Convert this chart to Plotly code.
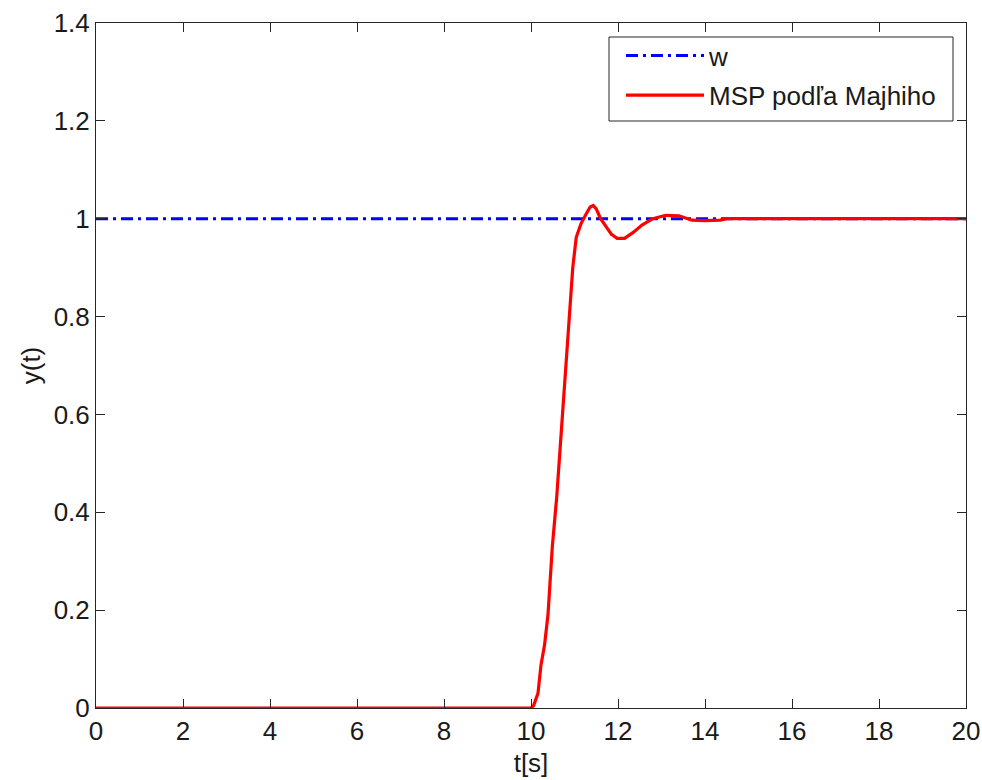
import plotly.graph_objects as go

# Reference signal w
t_w = [0, 20]
w = [1, 1]

# Response "MSP podľa Majhiho"
t_y = [0, 10.0, 10.06, 10.16, 10.23, 10.31, 10.39, 10.49, 10.59, 10.68, 10.77, 10.9,
       10.96, 11.04, 11.15, 11.27, 11.36, 11.43, 11.5, 11.6, 11.72, 11.85,
       11.98, 12.15, 12.35, 12.55, 12.8, 13.1, 13.4, 13.7, 14.0, 14.35, 14.5, 20]
y_y = [0, 0, 0.005, 0.03, 0.088, 0.128, 0.19, 0.33, 0.43, 0.547, 0.676, 0.833,
       0.9, 0.962, 0.99, 1.01, 1.024, 1.027, 1.02, 1.0, 0.985, 0.968,
       0.96, 0.96, 0.972, 0.987, 1.0, 1.007, 1.006, 0.997, 0.996, 0.997, 1.0, 1.0]

x_ticks = [0, 2, 4, 6, 8, 10, 12, 14, 16, 18, 20]
y_ticks = [0, 0.2, 0.4, 0.6, 0.8, 1.0, 1.2, 1.4]
y_tick_text = ["0", "0.2", "0.4", "0.6", "0.8", "1", "1.2", "1.4"]

font_family = "Liberation Sans, Arial, sans-serif"
fs = 26

# plot-area geometry (pixels) used to place the legend frame
W, H = 982, 780
ML, MR, MT, MB = 96, 16, 23, 72
PW, PH = W - ML - MR, H - MT - MB


def px_x(px):
    return (px - ML) / PW


def px_y(py):
    return (H - MB - py) / PH


fig = go.Figure()
fig.add_trace(go.Scatter(x=t_w, y=w, mode="lines", name="w", legendgroup="a",
                         line=dict(color="#0000ff", width=3, dash="12px,5px,3px,5px")))
fig.add_trace(go.Scatter(x=t_y, y=y_y, mode="lines", name="MSP podľa Majhiho",
                         legendgroup="b",
                         line=dict(color="#ff0000", width=3.2)))

axis_common = dict(showline=True, linecolor="#262626", linewidth=1, mirror="ticks",
                   ticks="inside", ticklen=9, tickcolor="#262626", tickwidth=1,
                   showgrid=False, zeroline=False, automargin=False,
                   tickfont=dict(family=font_family, size=fs, color="#1a1a1a"))

fig.update_layout(
    width=W, height=H,
    margin=dict(l=ML, r=MR, t=MT, b=MB),
    paper_bgcolor="white", plot_bgcolor="white",
    font=dict(family=font_family, size=fs, color="#1a1a1a"),
    xaxis=dict(range=[0, 20], tickvals=x_ticks, ticktext=[str(v) for v in x_ticks],
               title=dict(text="t[s]", standoff=8, font=dict(size=fs)), **axis_common),
    yaxis=dict(range=[0, 1.4], tickvals=y_ticks, ticktext=y_tick_text,
               title=dict(text="y(t)", standoff=5, font=dict(size=fs)), **axis_common),
    legend=dict(x=px_x(621), y=px_y(32), xanchor="left", yanchor="top",
                borderwidth=0, bgcolor="rgba(0,0,0,0)",
                font=dict(family=font_family, size=fs, color="#1a1a1a"),
                itemwidth=78, tracegroupgap=3),
    showlegend=True,
    shapes=[dict(type="rect", xref="paper", yref="paper",
                 x0=px_x(609), x1=px_x(953), y0=px_y(121), y1=px_y(37),
                 line=dict(color="#262626", width=1), fillcolor="white", layer="above")],
)

fig.write_html("out.html")
